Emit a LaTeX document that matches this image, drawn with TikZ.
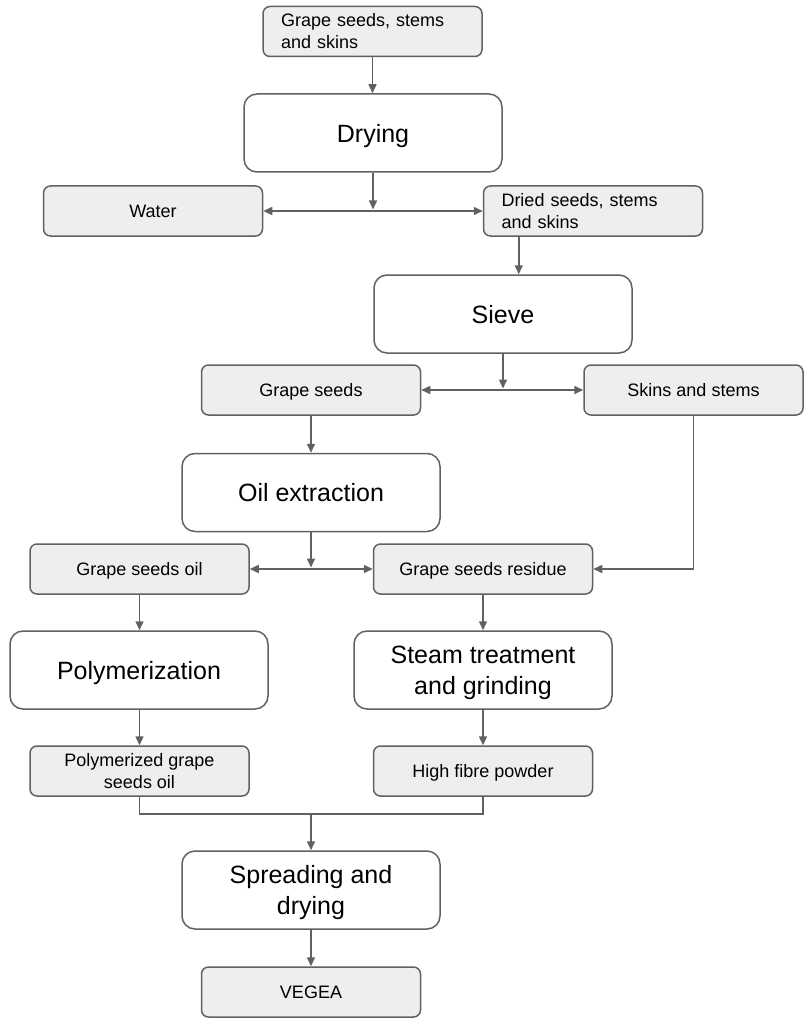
\documentclass[tikz,border=0pt]{standalone}
\usepackage{fontspec}
\setmainfont{Liberation Sans}
\usetikzlibrary{arrows.meta,calc}
\definecolor{boxfill}{HTML}{EEEEEE}
\definecolor{edge}{HTML}{616161}
\begin{document}
\begin{tikzpicture}[x=1pt,y=-1pt,
  sbox/.style={draw=edge, fill=boxfill, line width=1.5pt, rounded corners=7pt,
    minimum width=219pt, minimum height=50pt, inner sep=0pt, text depth=0pt,
    font=\fontsize{18}{22}\selectfont, align=center},
  leftbox/.style={sbox, text depth=, text width=183pt, align=left},
  lbox/.style={draw=edge, fill=white, line width=1.5pt, rounded corners=13pt,
    minimum width=258pt, minimum height=78pt, inner sep=0pt, text depth=0pt,
    font=\fontsize{25}{31}\selectfont, align=center},
  conn/.style={draw=edge, line width=1.5pt},
  arr/.style={conn, -{Triangle[length=9pt,width=8pt]}}]
\useasboundingbox[fill=white] (0,0) rectangle (809,1024);

\node[leftbox] (src) at (372.5,31.5) {Grape seeds, stems\\and skins};
\node[lbox] (drying) at (373,133) {Drying};
\node[sbox] (water) at (153,211) {Water};
\node[leftbox] (dried) at (593,211) {Dried seeds, stems\\and skins};
\node[lbox] (sieve) at (503,314) {Sieve};
\node[sbox] (gseeds) at (311,390) {Grape seeds};
\node[sbox] (skins) at (693.5,390) {Skins and stems};
\node[lbox] (oil) at (311,492.5) {Oil extraction};
\node[sbox] (gsoil) at (139.5,569) {Grape seeds oil};
\node[sbox] (residue) at (483,569) {Grape seeds residue};
\node[lbox] (poly) at (139,670) {Polymerization};
\node[lbox] (steam) at (483,670) {Steam treatment\\and grinding};
\node[sbox] (polyoil) at (139.5,771) {Polymerized grape\\seeds oil};
\node[sbox] (fibre) at (483,771) {High fibre powder};
\node[lbox] (spread) at (311,890) {Spreading and\\drying};
\node[sbox] (vegea) at (311,992) {VEGEA};

% source -> drying
\draw[arr] (src.south) -- (src.south |- drying.north);
% drying -> split
\coordinate (j1) at (drying.south |- water.east);
\draw[arr, shorten >=1.5pt] (drying.south) -- (j1);
\draw[arr] (j1) -- (water.east);
\draw[arr] (j1) -- (dried.west);
% dried -> sieve
\coordinate (d1) at ($(dried.south west)+(36,0)$);
\draw[arr] (d1) -- (d1 |- sieve.north);
% sieve -> split
\coordinate (j2) at (sieve.south |- gseeds.east);
\draw[arr, shorten >=1.5pt] (sieve.south) -- (j2);
\draw[arr] (j2) -- (gseeds.east);
\draw[arr] (j2) -- (skins.west);
% grape seeds -> oil extraction
\draw[arr] (gseeds.south) -- (gseeds.south |- oil.north);
% oil extraction -> split
\coordinate (j3) at (oil.south |- gsoil.east);
\draw[arr, shorten >=1.5pt] (oil.south) -- (j3);
\draw[arr] (j3) -- (gsoil.east);
\draw[arr] (j3) -- (residue.west);
% skins -> residue
\draw[arr] (skins.south) |- (residue.east);
% oil -> polymerization -> polymerized oil
\draw[arr] (gsoil.south) -- (gsoil.south |- poly.north);
\draw[arr] (gsoil.south |- poly.south) -- (polyoil.north);
% residue -> steam -> fibre
\draw[arr] (residue.south) -- (steam.north);
\draw[arr] (steam.south) -- (fibre.north);
% merge
\coordinate (m1) at ($(polyoil.south)+(0,17)$);
\draw[conn] (polyoil.south) -- (m1) -| (fibre.south);
\coordinate (m2) at (spread.north |- m1);
\draw[arr] (m2) -- (spread.north);
% spreading -> vegea
\draw[arr] (spread.south) -- (vegea.north);
\end{tikzpicture}
\end{document}
